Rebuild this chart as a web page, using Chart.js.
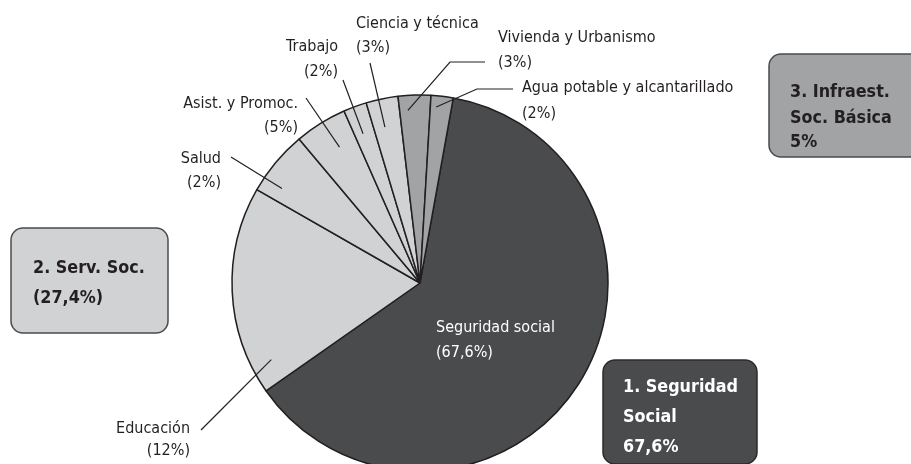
<!DOCTYPE html>
<html lang="es">
<head>
  <meta charset="UTF-8">
  <title>Gasto social por finalidad</title>
  <script src="https://cdn.jsdelivr.net/npm/chart.js"></script>
  <style>
    html, body { margin: 0; padding: 0; background: #fff; overflow: hidden; }
    #chart-container { width: 911px; height: 464px; position: relative; }
  </style>
</head>
<body>
<div id="chart-container">
  <canvas id="pieChart"></canvas>
</div>
<script>
// slices, clockwise from just right of 12 o'clock
const categories = ['Seguridad social', 'Educación', 'Salud', 'Asist. y Promoc.', 'Trabajo',
                    'Ciencia y técnica', 'Vivienda y Urbanismo', 'Agua potable y alcantarillado'];
// share of the circle as drawn (%)
const sliceValues = [62.4, 18.0, 5.6, 4.5, 2.0, 2.75, 2.8, 1.9];
// share printed under each name
const printedShares = ['67,6%', '12%', '2%', '5%', '2%', '3%', '3%', '2%'];
// group of each slice (1, 2, 3)
const sliceGroup = [1, 2, 2, 2, 2, 2, 3, 3];

// group boxes
const groupTitles = [['1. Seguridad', 'Social'], ['2. Serv. Soc.'], ['3. Infraest.', 'Soc. Básica']];
const groupShares = ['67,6%', '(27,4%)', '5%'];

const groupColors = { 1: '#4a4b4d', 2: '#d1d2d4', 3: '#a2a3a5' };
const ink = '#231f20';
const labelFont = '16px "DejaVu Sans Condensed", "DejaVu Sans", sans-serif';
const boxFont = 'bold 17.8px "DejaVu Sans Condensed", "DejaVu Sans", sans-serif';

// label placement: text anchor, alignment, baselines, and leader (elbow point + where it hits the slice)
const labelLayout = [
  { x: 436, y: [332, 357], align: 'left', color: '#ffffff' },
  { x: 190, y: [433, 455], align: 'right', from: [201, 430], t: 0.12, r: 0.89 },
  { x: 221, y: [163, 187], align: 'right', from: [231, 157], t: 0.23, r: 0.89 },
  { x: 298, y: [108, 132], align: 'right', from: [306, 98], t: 0.58, r: 0.84 },
  { x: 338, y: [51, 76], align: 'right', from: [343, 80], t: 0.41, r: 0.85 },
  { x: 356, y: [28, 52], align: 'left', from: [370, 63], t: 0.40, r: 0.85 },
  { x: 498, y: [42, 67], align: 'left', from: [485, 62], elbow: [450, 62], t: 0.27, r: 0.92 },
  { x: 522, y: [92, 118], align: 'left', from: [513, 89], elbow: [477, 89], t: 0.28, r: 0.94 }
];

const boxLayout = [
  { x: 603, y: 360, w: 154, h: 104, tx: 623, ty: [392, 422, 452], text: '#ffffff', border: '#2b2b2d' },
  { x: 11, y: 228, w: 157, h: 105, tx: 33, ty: [273, 303], text: ink, border: '#4a4b4d' },
  { x: 769, y: 54, w: 170, h: 103, tx: 790, ty: [97, 123, 147], text: ink, border: '#4a4b4d' }
];

const annotations = {
  id: 'annotations',
  afterDatasetsDraw(chart) {
    const ctx = chart.ctx;
    const arcs = chart.getDatasetMeta(0).data;
    ctx.save();

    // leader lines
    ctx.strokeStyle = ink;
    ctx.lineWidth = 1.2;
    labelLayout.forEach(function (lay, i) {
      if (!lay.from) return;
      const arc = arcs[i];
      const a = arc.startAngle + lay.t * (arc.endAngle - arc.startAngle);
      const rr = lay.r * arc.outerRadius;
      ctx.beginPath();
      ctx.moveTo(lay.from[0], lay.from[1]);
      if (lay.elbow) ctx.lineTo(lay.elbow[0], lay.elbow[1]);
      ctx.lineTo(arc.x + rr * Math.cos(a), arc.y + rr * Math.sin(a));
      ctx.stroke();
    });

    // slice labels
    ctx.font = labelFont;
    ctx.textBaseline = 'alphabetic';
    labelLayout.forEach(function (lay, i) {
      ctx.fillStyle = lay.color || ink;
      ctx.textAlign = lay.align;
      ctx.fillText(categories[i], lay.x, lay.y[0]);
      ctx.fillText('(' + printedShares[i] + ')', lay.x, lay.y[1]);
    });

    // group boxes
    ctx.font = boxFont;
    ctx.textAlign = 'left';
    boxLayout.forEach(function (b, g) {
      ctx.beginPath();
      ctx.roundRect(b.x, b.y, b.w, b.h, 12);
      ctx.fillStyle = groupColors[g + 1];
      ctx.fill();
      ctx.lineWidth = 1.5;
      ctx.strokeStyle = b.border;
      ctx.stroke();
      ctx.fillStyle = b.text;
      const lines = groupTitles[g].concat([groupShares[g]]);
      lines.forEach(function (txt, k) {
        ctx.fillText(txt, b.tx, b.ty[k]);
      });
    });
    ctx.restore();
  }
};

new Chart(document.getElementById('pieChart').getContext('2d'), {
  type: 'pie',
  data: {
    labels: categories,
    datasets: [{
      data: sliceValues,
      backgroundColor: sliceGroup.map(function (g) { return groupColors[g]; }),
      borderColor: ink,
      borderWidth: 1.5,
      clip: false
    }]
  },
  options: {
    responsive: true,
    maintainAspectRatio: false,
    animation: false,
    rotation: 10.2,
    radius: 188,
    layout: { padding: { top: 102, bottom: 0, left: 0, right: 71 } },
    plugins: {
      legend: { display: false },
      tooltip: { enabled: false }
    }
  },
  plugins: [annotations]
});
</script>
</body>
</html>
